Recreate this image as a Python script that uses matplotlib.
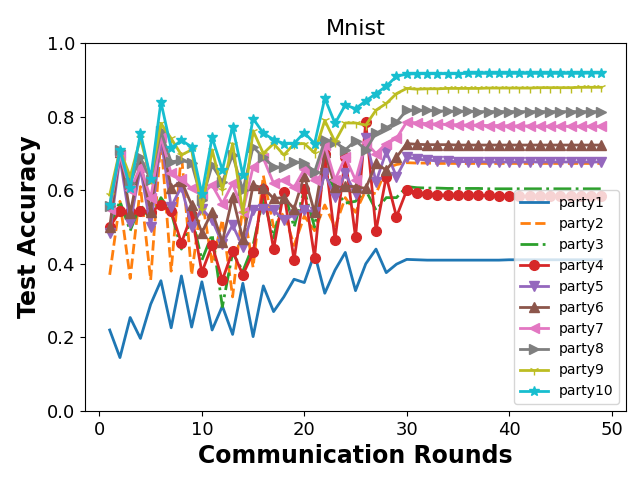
import matplotlib
matplotlib.use("Agg")
from matplotlib import pyplot as plt

rounds = list(range(1, 50))

party1 = [0.22, 0.145, 0.254, 0.197, 0.29, 0.354, 0.226, 0.367, 0.228, 0.351,
          0.22, 0.285, 0.208, 0.347, 0.202, 0.34, 0.27, 0.31, 0.358, 0.349,
          0.428, 0.32, 0.383, 0.431, 0.327, 0.40, 0.44, 0.376, 0.399, 0.412,
          0.411, 0.41, 0.41, 0.41, 0.41, 0.41, 0.41, 0.41, 0.41, 0.411,
          0.411, 0.411, 0.411, 0.411, 0.411, 0.411, 0.411, 0.411, 0.411]
party2 = [0.37, 0.57, 0.36, 0.61, 0.356, 0.74, 0.38, 0.70, 0.37, 0.58,
          0.40, 0.52, 0.31, 0.56, 0.39, 0.64, 0.50, 0.54, 0.45, 0.53,
          0.49, 0.56, 0.50, 0.58, 0.54, 0.60, 0.59, 0.66, 0.67, 0.675,
          0.674, 0.674, 0.673, 0.673, 0.673, 0.673, 0.673, 0.673, 0.673, 0.673,
          0.673, 0.673, 0.673, 0.673, 0.673, 0.673, 0.673, 0.673, 0.673]
party3 = [0.50, 0.57, 0.49, 0.56, 0.52, 0.58, 0.54, 0.44, 0.53, 0.41,
          0.48, 0.283, 0.43, 0.38, 0.45, 0.58, 0.47, 0.60, 0.50, 0.60,
          0.50, 0.66, 0.60, 0.565, 0.57, 0.60, 0.546, 0.58, 0.58, 0.61,
          0.607, 0.606, 0.606, 0.605, 0.605, 0.605, 0.605, 0.604, 0.604, 0.604,
          0.604, 0.604, 0.604, 0.604, 0.604, 0.604, 0.604, 0.604, 0.604]
party4 = [0.50, 0.543, 0.54, 0.543, 0.542, 0.559, 0.543, 0.457, 0.533, 0.377,
          0.451, 0.356, 0.435, 0.37, 0.431, 0.603, 0.44, 0.596, 0.41, 0.603,
          0.417, 0.70, 0.465, 0.69, 0.472, 0.786, 0.49, 0.637, 0.528, 0.60,
          0.592, 0.589, 0.587, 0.587, 0.587, 0.587, 0.586, 0.586, 0.585, 0.585,
          0.584, 0.584, 0.584, 0.584, 0.584, 0.584, 0.584, 0.584, 0.584]
party5 = [0.483, 0.69, 0.51, 0.66, 0.50, 0.74, 0.555, 0.61, 0.50, 0.55,
          0.519, 0.455, 0.505, 0.446, 0.546, 0.55, 0.546, 0.519, 0.533, 0.546,
          0.542, 0.646, 0.582, 0.646, 0.59, 0.741, 0.623, 0.705, 0.637, 0.69,
          0.685, 0.682, 0.68, 0.679, 0.678, 0.678, 0.678, 0.677, 0.677, 0.677,
          0.677, 0.677, 0.677, 0.677, 0.677, 0.677, 0.677, 0.677, 0.677]
party6 = [0.50, 0.705, 0.537, 0.677, 0.542, 0.755, 0.605, 0.625, 0.56, 0.485,
          0.542, 0.46, 0.582, 0.467, 0.614, 0.606, 0.578, 0.58, 0.55, 0.64,
          0.54, 0.705, 0.61, 0.611, 0.61, 0.605, 0.673, 0.655, 0.69, 0.727,
          0.725, 0.724, 0.724, 0.724, 0.723, 0.723, 0.723, 0.723, 0.723, 0.723,
          0.723, 0.723, 0.723, 0.723, 0.723, 0.723, 0.723, 0.723, 0.723]
party7 = [0.55, 0.696, 0.60, 0.664, 0.578, 0.745, 0.646, 0.63, 0.605, 0.59,
          0.614, 0.564, 0.619, 0.542, 0.664, 0.687, 0.619, 0.628, 0.608, 0.657,
          0.628, 0.723, 0.628, 0.69, 0.628, 0.73, 0.70, 0.727, 0.741, 0.786,
          0.783, 0.781, 0.78, 0.779, 0.778, 0.777, 0.777, 0.776, 0.776, 0.775,
          0.775, 0.775, 0.774, 0.774, 0.774, 0.774, 0.774, 0.774, 0.774]
party8 = [0.557, 0.71, 0.62, 0.69, 0.627, 0.76, 0.677, 0.682, 0.673, 0.573,
          0.668, 0.623, 0.696, 0.60, 0.718, 0.69, 0.664, 0.662, 0.677, 0.675,
          0.65, 0.736, 0.732, 0.71, 0.735, 0.71, 0.755, 0.77, 0.785, 0.818,
          0.818, 0.817, 0.816, 0.815, 0.815, 0.815, 0.814, 0.814, 0.814, 0.814,
          0.814, 0.814, 0.814, 0.814, 0.814, 0.814, 0.814, 0.814, 0.814]
party9 = [0.587, 0.71, 0.637, 0.741, 0.632, 0.782, 0.741, 0.696, 0.71, 0.546,
          0.71, 0.60, 0.727, 0.537, 0.762, 0.70, 0.727, 0.696, 0.726, 0.727,
          0.702, 0.79, 0.732, 0.783, 0.783, 0.777, 0.818, 0.836, 0.863, 0.877,
          0.875, 0.876, 0.876, 0.877, 0.877, 0.877, 0.877, 0.878, 0.878, 0.878,
          0.878, 0.878, 0.879, 0.879, 0.879, 0.879, 0.88, 0.88, 0.88]
party10 = [0.56, 0.71, 0.605, 0.756, 0.632, 0.84, 0.714, 0.736, 0.718, 0.59,
           0.744, 0.655, 0.773, 0.641, 0.795, 0.755, 0.738, 0.727, 0.727, 0.757,
           0.727, 0.85, 0.782, 0.832, 0.822, 0.843, 0.863, 0.883, 0.91, 0.916,
           0.917, 0.917, 0.917, 0.917, 0.917, 0.918, 0.918, 0.918, 0.918, 0.918,
           0.918, 0.918, 0.918, 0.918, 0.918, 0.918, 0.918, 0.919, 0.919]

series = [party1, party2, party3, party4, party5, party6, party7, party8, party9, party10]
labels = ["party%d" % (i + 1) for i in range(10)]
styles = ['-', '--', '-.', '-', '-', '-', '-', '-', '-', '-']
markers = [None, None, None, 'o', 'v', '^', '<', '>', '1', '*']

fig = plt.figure(figsize=(6.4, 4.8), dpi=100)
ax = fig.add_subplot(111)
fig.subplots_adjust(left=0.133, right=0.978, bottom=0.144, top=0.91)

for vals, lab, ls, mk in zip(series, labels, styles, markers):
    ax.plot(rounds, vals, linestyle=ls, marker=mk, linewidth=2, markersize=7, label=lab)

ax.set_ylim(0, 1.0)
ax.set_xticks([0, 10, 20, 30, 40, 50])
ax.set_yticks([0.0, 0.2, 0.4, 0.6, 0.8, 1.0])
ax.tick_params(axis='both', labelsize=13)
ax.set_title("Mnist", fontsize=16)
ax.set_xlabel("Communication Rounds", fontsize=17, fontweight='bold')
ax.set_ylabel("Test Accuracy", fontsize=17, fontweight='bold')
ax.legend(loc='lower right', fontsize=10)

fig.savefig("out.png")
